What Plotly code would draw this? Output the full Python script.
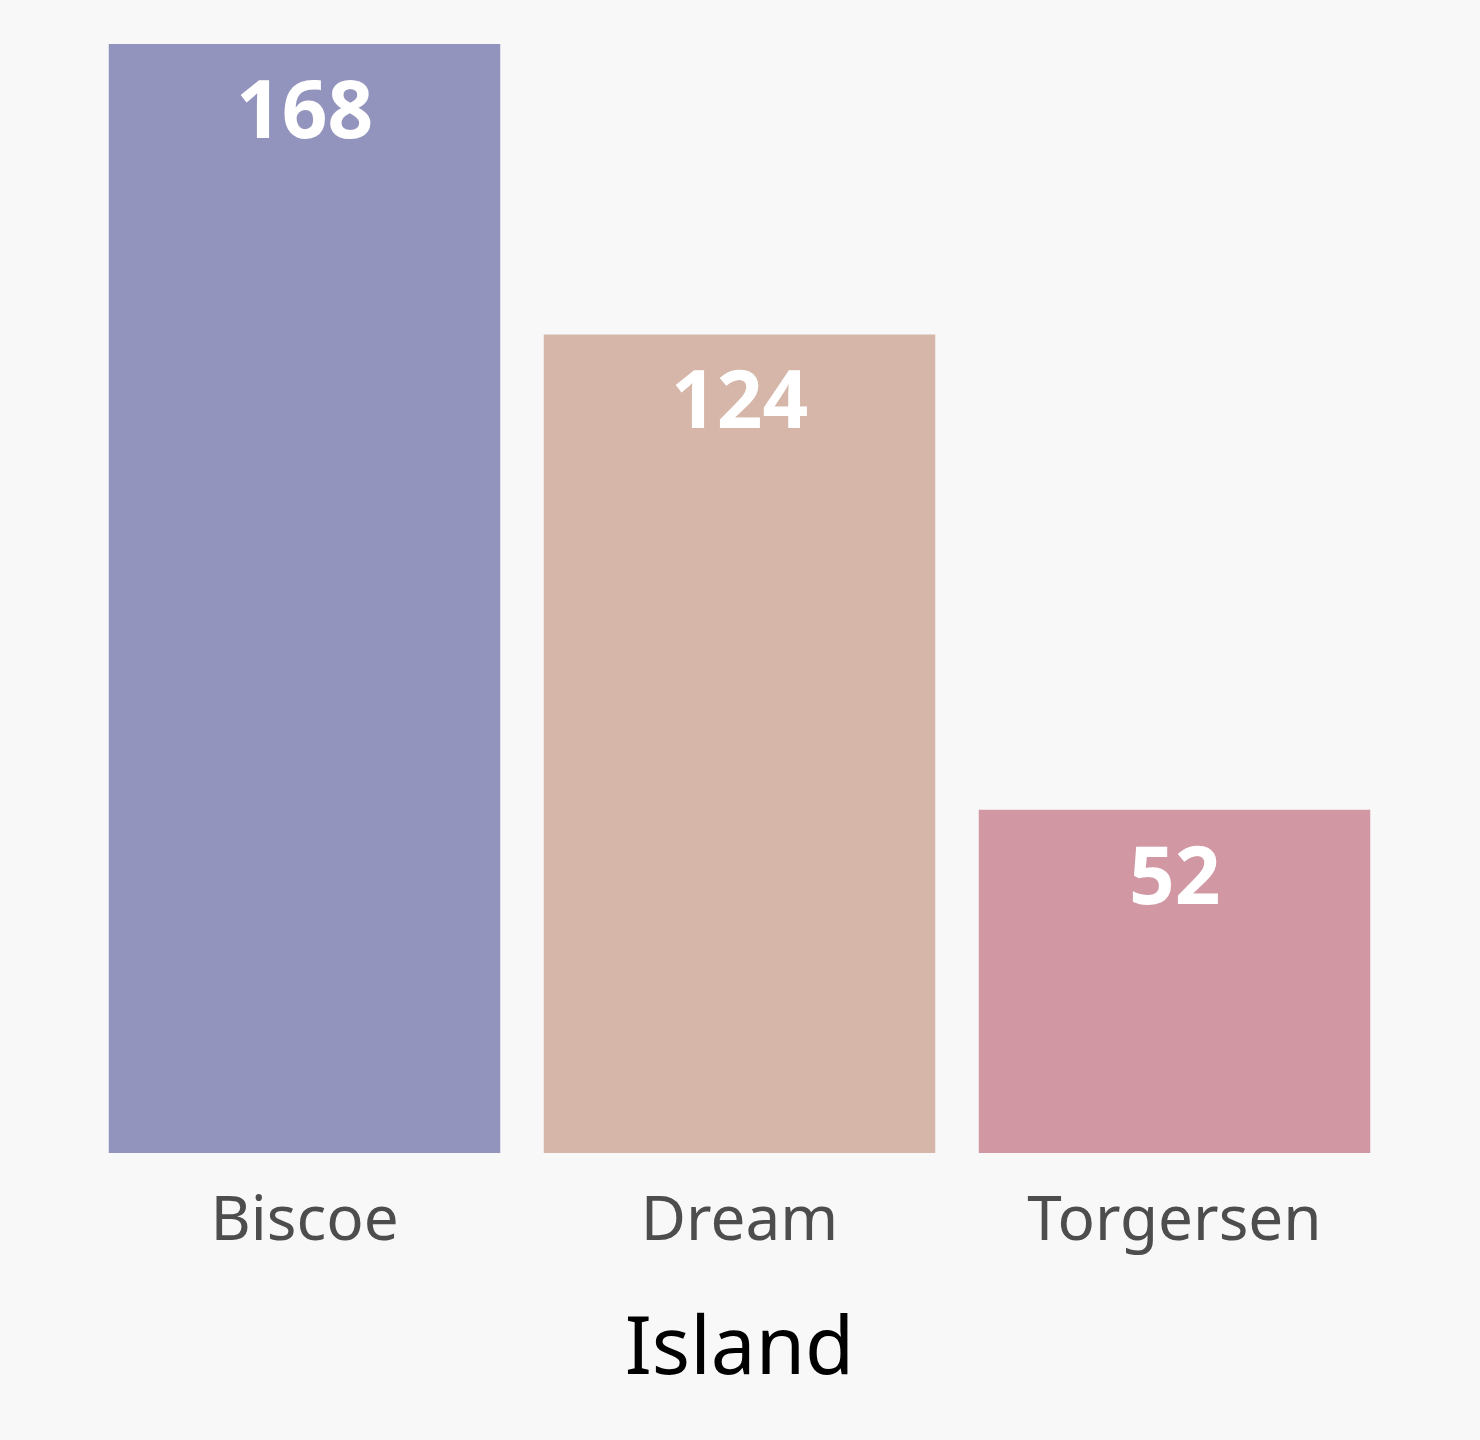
import plotly.graph_objects as go

islands = ["Biscoe", "Dream", "Torgersen"]
counts = [168, 124, 52]
bar_colors = ["#9394bd", "#d5b6a9", "#d197a3"]

fig = go.Figure(go.Bar(x=islands, y=counts, marker_color=bar_colors,
                       marker_line_width=0, hoverinfo="x+y"))

# count labels sitting just under the top of each bar
for isl, n in zip(islands, counts):
    fig.add_annotation(x=isl, y=n, text="<b>%d</b>" % n, showarrow=False,
                       yanchor="top", yshift=-6,
                       font=dict(family="Noto Sans", size=80, color="white"))

fig.update_layout(
    width=1480, height=1440,
    margin=dict(l=87, r=88, t=44, b=287),
    paper_bgcolor="#f8f8f8", plot_bgcolor="#f8f8f8",
    bargap=0.1, showlegend=False,
    font=dict(family="Noto Sans"),
    xaxis=dict(title=dict(text="Island", font=dict(size=80, color="black"), standoff=60),
               tickfont=dict(size=62, color="#4d4d4d"), ticklabelstandoff=24,
               showgrid=False, showline=False, ticks="", ticklen=0),
    yaxis=dict(range=[0, 168], visible=False),
)

fig.write_html("out.html", config={"displayModeBar": False},
               post_script="document.body.style.margin='0px';")
